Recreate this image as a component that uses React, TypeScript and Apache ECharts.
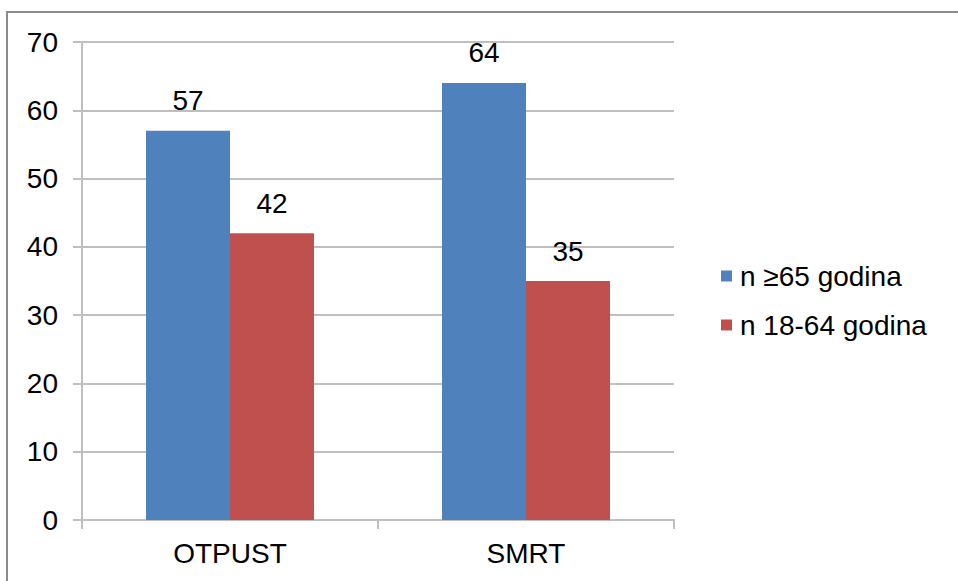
import React, { useEffect, useRef } from "react";
import * as echarts from "echarts";

const categories = ["OTPUST", "SMRT"];
const seriesNames = ["n \u226565 godina", "n 18-64 godina"];
const olderValues = [57, 64];
const youngerValues = [42, 35];
const colors = ["#4F81BD", "#C0504D"];

export default function App() {
  const ref = useRef<HTMLDivElement>(null);
  useEffect(() => {
    if (!ref.current) return;
    const chart = echarts.init(ref.current, undefined, { renderer: "svg" });
    const font = "'Liberation Sans', Arial, sans-serif";
    chart.setOption({
      animation: false,
      backgroundColor: "#ffffff",
      textStyle: { fontFamily: font },
      graphic: [
        { type: "line", shape: { x1: 7, y1: 12, x2: 7, y2: 590 }, style: { stroke: "#8c8c8c", lineWidth: 2 } },
        { type: "line", shape: { x1: 6, y1: 12, x2: 970, y2: 12 }, style: { stroke: "#8c8c8c", lineWidth: 2 } },
      ],
      grid: { left: 82, right: 284, top: 42, bottom: 61, containLabel: false },
      legend: {
        orient: "vertical",
        left: 716,
        top: 257,
        itemWidth: 11,
        itemHeight: 11,
        itemGap: 21,
        icon: "rect",
        textStyle: { fontSize: 28, color: "#000", fontFamily: font, padding: [0, 0, 0, 3] },
        data: seriesNames,
      },
      xAxis: {
        type: "category",
        data: categories,
        axisLine: { lineStyle: { color: "#bfbfbf", width: 2 } },
        axisTick: { show: true, length: 9, lineStyle: { color: "#bfbfbf", width: 2 } },
        axisLabel: { fontSize: 28, color: "#000", margin: 19, fontFamily: font },
      },
      yAxis: {
        type: "value",
        min: 0,
        max: 70,
        interval: 10,
        axisLine: { show: true, lineStyle: { color: "#bfbfbf", width: 2 } },
        axisTick: { show: true, length: 9, lineStyle: { color: "#bfbfbf", width: 2 } },
        axisLabel: { fontSize: 28, color: "#000", margin: 24, fontFamily: font },
        splitLine: { show: true, lineStyle: { color: "#bfbfbf", width: 2 } },
      },
      series: [
        {
          name: seriesNames[0],
          type: "bar",
          data: olderValues,
          itemStyle: { color: colors[0] },
          barWidth: 84,
          barGap: "0%",
          label: { show: true, position: "top", distance: 16, fontSize: 28, color: "#000", fontFamily: font },
        },
        {
          name: seriesNames[1],
          type: "bar",
          data: youngerValues,
          itemStyle: { color: colors[1] },
          barWidth: 84,
          barGap: "0%",
          label: { show: true, position: "top", distance: 16, fontSize: 28, color: "#000", fontFamily: font },
        },
      ],
    });
    return () => chart.dispose();
  }, []);
  return (
    <div
      ref={ref}
      style={{ position: "fixed", left: 0, top: 0, width: 958, height: 581, background: "#fff" }}
    />
  );
}
